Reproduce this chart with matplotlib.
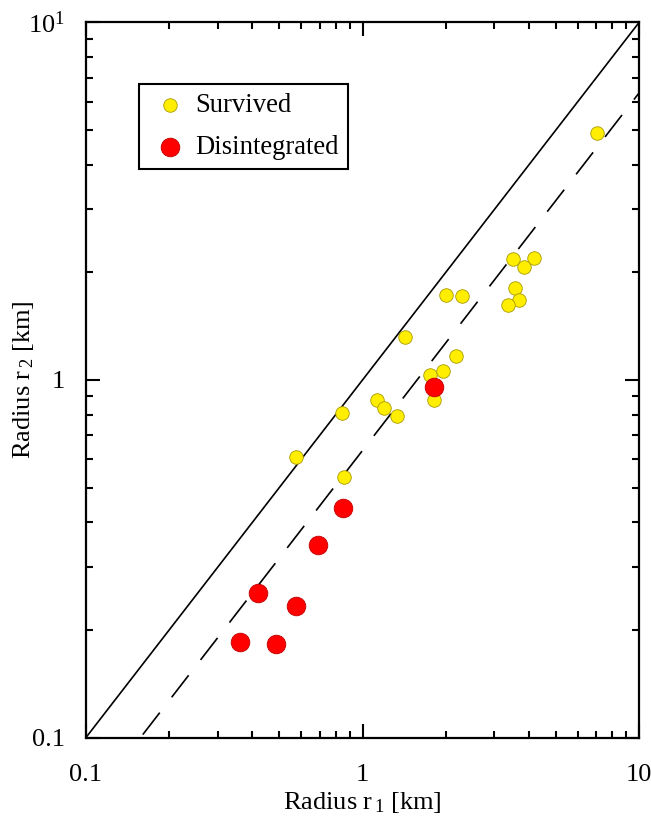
import numpy as np
import matplotlib
matplotlib.use('Agg')
import matplotlib.pyplot as plt
from matplotlib.ticker import LogLocator, FixedLocator, NullFormatter

plt.rcParams['font.family'] = ['Liberation Serif', 'DejaVu Serif']
plt.rcParams['mathtext.fontset'] = 'custom'
plt.rcParams['mathtext.rm'] = 'Liberation Serif'
plt.rcParams['mathtext.it'] = 'Liberation Serif:italic'

# Survived bodies (r1, r2) in km
surv_r1 = [2.00, 2.29, 1.43, 2.18, 1.75, 1.95, 1.82, 1.13, 1.20, 1.33,
           0.845, 0.576, 0.859, 7.07, 3.51, 4.17, 3.84, 3.56, 3.68, 3.37]
surv_r2 = [1.73, 1.72, 1.32, 1.17, 1.03, 1.06, 0.877, 0.879, 0.837, 0.792,
           0.807, 0.609, 0.534, 4.92, 2.18, 2.19, 2.07, 1.81, 1.67, 1.62]

# Disintegrated bodies
dis_r1 = [1.82, 0.848, 0.690, 0.420, 0.576, 0.361, 0.488]
dis_r2 = [0.955, 0.439, 0.345, 0.254, 0.233, 0.185, 0.183]

ratio = 0.635  # dashed reference line r2 = ratio * r1

FS = 19

fig = plt.figure(figsize=(6.51, 8.38), dpi=100)
ax = fig.add_axes([86/651, 1 - 737.5/838, 553/651, 715/838])

# reference lines
ax.plot([0.1, 10], [0.1, 10], color='black', lw=1.2, zorder=1)
xd = np.array([10.0, 0.1 / ratio])
lw = 1.2
ax.plot(xd, ratio * xd, color='black', lw=lw,
        linestyle=(14 / lw, (20 / lw, 14 / lw)), zorder=1)

ax.scatter(surv_r1, surv_r2, s=95, facecolor='#ffee00', edgecolor='#a89a00',
           linewidth=0.6, zorder=3, label='Survived')
ax.scatter(dis_r1, dis_r2, s=180, facecolor='#ff0000', edgecolor='#c00000',
           linewidth=0.6, zorder=3, label='Disintegrated')

ax.set_xscale('log')
ax.set_yscale('log')
ax.set_xlim(0.1, 10)
ax.set_ylim(0.1, 10)

ax.xaxis.set_major_locator(FixedLocator([0.1, 1, 10]))
ax.yaxis.set_major_locator(FixedLocator([0.1, 1, 10]))
ax.xaxis.set_minor_locator(LogLocator(base=10, subs=np.arange(2, 10)))
ax.yaxis.set_minor_locator(LogLocator(base=10, subs=np.arange(2, 10)))
ax.xaxis.set_minor_formatter(NullFormatter())
ax.yaxis.set_minor_formatter(NullFormatter())
ax.set_xticklabels(['0.1', '1', '10'])
ax.set_yticklabels(['0.1', '1', '10$^1$'])

for s in ax.spines.values():
    s.set_linewidth(1.6)
ax.tick_params(which='both', direction='in', top=True, right=True,
               width=1.5, labelsize=FS)
ax.tick_params(which='major', length=10)
ax.tick_params(which='minor', length=5)
ax.tick_params(axis='x', which='major', pad=19)
ax.tick_params(axis='y', which='major', pad=15)

ax.set_xlabel('Radius r$_{\\,1}$ [km]', fontsize=FS)
ax.set_ylabel('Radius r$_{\\,2}$ [km]', fontsize=FS)
ax.xaxis.set_label_coords(0.5, -0.074)
ax.yaxis.set_label_coords(-0.09, 0.5)

leg = ax.legend(loc='upper left', bbox_to_anchor=(53/553, 1 - 61.5/715),
                borderaxespad=0, fancybox=False, framealpha=1,
                edgecolor='black', fontsize=19.2, handletextpad=0.15,
                borderpad=0.35, labelspacing=0.62, handlelength=1.6)
leg.get_frame().set_linewidth(1.5)

fig.savefig('out.png', dpi=100)
